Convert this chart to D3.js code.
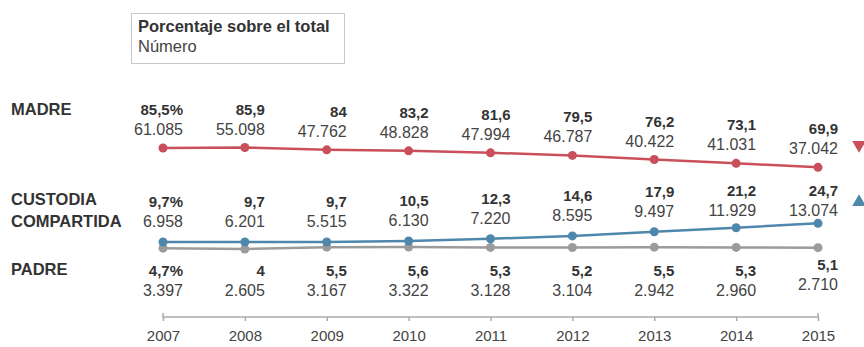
<!DOCTYPE html>
<html>
<head>
<meta charset="utf-8">
<script src="https://cdn.jsdelivr.net/npm/d3@7"></script>
<style>
  body { margin: 0; background: #fff; }
  text { font-family: "Liberation Sans", Arial, sans-serif; }
</style>
</head>
<body>
<div id="chart"></div>
<script>
var years = [2007, 2008, 2009, 2010, 2011, 2012, 2013, 2014, 2015];

var madrePct = [85.5, 85.9, 84, 83.2, 81.6, 79.5, 76.2, 73.1, 69.9];
var madreNum = [61085, 55098, 47762, 48828, 47994, 46787, 40422, 41031, 37042];

var custodiaPct = [9.7, 9.7, 9.7, 10.5, 12.3, 14.6, 17.9, 21.2, 24.7];
var custodiaNum = [6958, 6201, 5515, 6130, 7220, 8595, 9497, 11929, 13074];

var padrePct = [4.7, 4, 5.5, 5.6, 5.3, 5.2, 5.5, 5.3, 5.1];
var padreNum = [3397, 2605, 3167, 3322, 3128, 3104, 2942, 2960, 2710];

var seriesNames = [["MADRE"], ["CUSTODIA", "COMPARTIDA"], ["PADRE"]];
var legendLines = ["Porcentaje sobre el total", "Número"];

function renderChart(containerSelector) {
  var width = 864;
  var height = 347;

  var svg = d3
    .select(containerSelector)
    .append("svg")
    .attr("width", width)
    .attr("height", height);

  var x = d3.scaleLinear().domain([2007, 2015]).range([163, 818]);
  var y = d3.scaleLinear().domain([0, 100]).range([254, 130]);

  var pctFmt = function (v, i) {
    var s = String(v).replace(".", ",");
    return i === 0 ? s + "%" : s;
  };
  var numFmt = function (v) {
    return String(v).replace(/\B(?=(\d{3})+(?!\d))/g, ".");
  };

  // legend box
  var legend = svg.append("g").attr("transform", "translate(131,13)");
  legend
    .append("rect")
    .attr("x", 0.5)
    .attr("y", 0.5)
    .attr("width", 213)
    .attr("height", 50)
    .attr("fill", "#fff")
    .attr("stroke", "#c8c8c8");
  legend
    .append("text")
    .attr("x", 7)
    .attr("y", 19)
    .style("font-size", "16.5px")
    .style("font-weight", "bold")
    .attr("fill", "#333")
    .text(legendLines[0]);
  legend
    .append("text")
    .attr("x", 7)
    .attr("y", 39)
    .style("font-size", "16.5px")
    .attr("fill", "#444")
    .text(legendLines[1]);

  // axis
  var axis = svg
    .append("g")
    .attr("transform", "translate(0,317)")
    .call(
      d3.axisBottom(x)
        .tickValues(years)
        .tickFormat(d3.format("d"))
        .tickSize(4)
        .tickSizeOuter(0)
        .tickPadding(9)
    );
  axis.select(".domain").attr("stroke", "#aaa").attr("stroke-width", 1.5)
    .attr("d", "M" + x(2007) + ",-4V0H" + x(2015) + "V-4");
  axis.selectAll(".tick line").attr("stroke", "#aaa").attr("stroke-width", 1.5);
  axis
    .selectAll(".tick text")
    .attr("fill", "#444")
    .style("font-size", "15px")
    .style("font-family", "'Liberation Sans', Arial, sans-serif");

  var series = [
    {
      pct: madrePct, num: madreNum, color: "#c9505b",
      numY: function (v) { return Math.max(135, y(v) - 13); },
      labelY: 115
    },
    {
      pct: custodiaPct, num: custodiaNum, color: "#4f87ac",
      numY: function (v) { return Math.min(227, Math.max(216, y(v) - 15)); },
      labelY: 205
    },
    {
      pct: padrePct, num: padreNum, color: "#9b9b9b",
      numY: function (v, i) { return i === 8 ? 290 : 296; },
      labelY: 275
    }
  ];

  var line = d3
    .line()
    .x(function (d, i) { return x(years[i]); })
    .y(function (d) { return y(d); });

  // draw gray first so blue sits on top
  [2, 1, 0].forEach(function (k) {
    var s = series[k];
    svg
      .append("path")
      .datum(s.pct)
      .attr("fill", "none")
      .attr("stroke", s.color)
      .attr("stroke-width", 2.5)
      .attr("d", line);

    svg
      .selectAll(null)
      .data(s.pct)
      .enter()
      .append("circle")
      .attr("cx", function (d, i) { return x(years[i]); })
      .attr("cy", function (d) { return y(d); })
      .attr("r", 4.5)
      .attr("fill", s.color);
  });

  series.forEach(function (s, k) {
    var g = svg.append("g");

    g.selectAll(null)
      .data(s.pct)
      .enter()
      .append("text")
      .attr("x", function (d, i) { return x(years[i]) + 20; })
      .attr("y", function (d, i) { return s.numY(d, i) - 20; })
      .attr("text-anchor", "end")
      .attr("fill", "#333")
      .style("font-size", "15px")
      .style("font-weight", "bold")
      .text(function (d, i) { return pctFmt(d, i); });

    g.selectAll(null)
      .data(s.num)
      .enter()
      .append("text")
      .attr("x", function (d, i) { return x(years[i]) + 20; })
      .attr("y", function (d, i) { return s.numY(s.pct[i], i); })
      .attr("text-anchor", "end")
      .attr("fill", "#444")
      .style("font-size", "16px")
      .text(function (d) { return numFmt(d); });

    seriesNames[k].forEach(function (name, j) {
      svg
        .append("text")
        .attr("x", 11)
        .attr("y", s.labelY + j * 22)
        .attr("fill", "#333")
        .style("font-size", "16.5px")
        .style("font-weight", "bold")
        .text(name);
    });
  });

  // trend markers on the right edge
  svg
    .append("path")
    .attr("d", d3.symbol().type(d3.symbolTriangle).size(80))
    .attr("transform", "translate(859,145) rotate(180)")
    .attr("fill", series[0].color);
  svg
    .append("path")
    .attr("d", d3.symbol().type(d3.symbolTriangle).size(80))
    .attr("transform", "translate(859,202)")
    .attr("fill", series[1].color);
}

renderChart("#chart");
</script>
</body>
</html>
